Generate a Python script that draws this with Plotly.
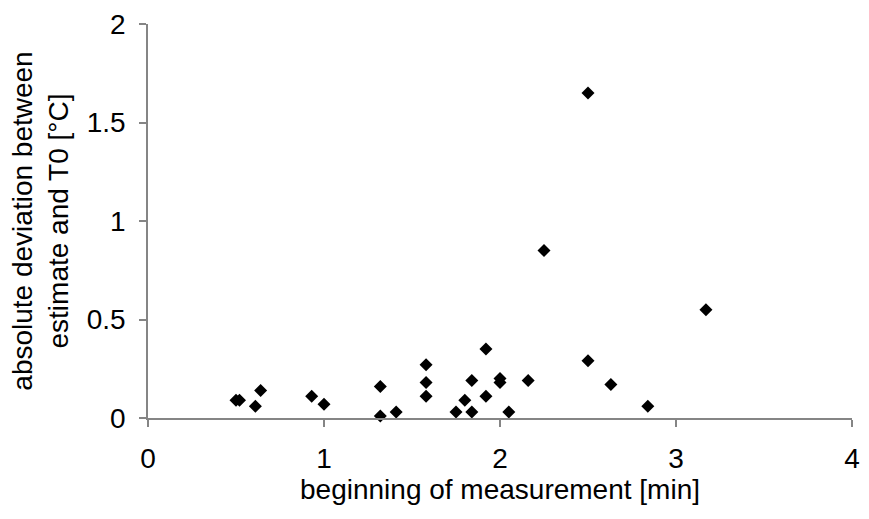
import plotly.graph_objects as go

start_min = [0.50, 0.52, 0.64, 0.61, 0.93, 1.00, 1.32, 1.32, 1.41, 1.58, 1.58, 1.58,
             1.75, 1.80, 1.84, 1.84, 1.92, 1.92, 2.00, 2.00, 2.05, 2.16, 2.25,
             2.50, 2.50, 2.63, 2.84, 3.17]
abs_dev = [0.09, 0.09, 0.14, 0.06, 0.11, 0.07, 0.16, 0.01, 0.03, 0.27, 0.18, 0.11,
           0.03, 0.09, 0.19, 0.03, 0.35, 0.11, 0.20, 0.18, 0.03, 0.19, 0.85,
           1.65, 0.29, 0.17, 0.06, 0.55]

x_ticks = [0, 1, 2, 3, 4]
y_ticks = [0, 0.5, 1, 1.5, 2]
y_tick_labels = ["0", "0.5", "1", "1.5", "2"]

axis_col = "#858585"
font_family = "Liberation Sans, Arial, sans-serif"
fs = 28

fig = go.Figure(go.Scatter(
    x=start_min, y=abs_dev, mode="markers",
    marker=dict(symbol="diamond", size=10, color="black", line=dict(width=0)),
    cliponaxis=False, showlegend=False,
))

fig.update_layout(
    width=869, height=519,
    margin=dict(l=148, r=9, t=19, b=101),
    paper_bgcolor="white", plot_bgcolor="white",
    font=dict(family=font_family, size=fs, color="black"),
    xaxis=dict(
        range=[0, 4], tickvals=x_ticks, ticktext=[str(v) for v in x_ticks],
        showline=True, linecolor=axis_col, linewidth=1.5,
        ticks="outside", ticklen=7, tickcolor=axis_col, tickwidth=1.5,
        ticklabelstandoff=8,
        showgrid=False, zeroline=False,
        title=dict(text="beginning of measurement [min]", standoff=0,
                   font=dict(family=font_family, size=fs)),
        tickfont=dict(family=font_family, size=fs),
    ),
    yaxis=dict(
        range=[0, 2], tickvals=y_ticks, ticktext=y_tick_labels,
        showline=True, linecolor=axis_col, linewidth=1.5,
        ticks="outside", ticklen=7, tickcolor=axis_col, tickwidth=1.5,
        ticklabelstandoff=8,
        showgrid=False, zeroline=False,
        title=dict(text="absolute deviation between<br>estimate and T0 [°C]",
                   standoff=10, font=dict(family=font_family, size=fs)),
        tickfont=dict(family=font_family, size=fs),
    ),
)

fig.write_html("out.html")
